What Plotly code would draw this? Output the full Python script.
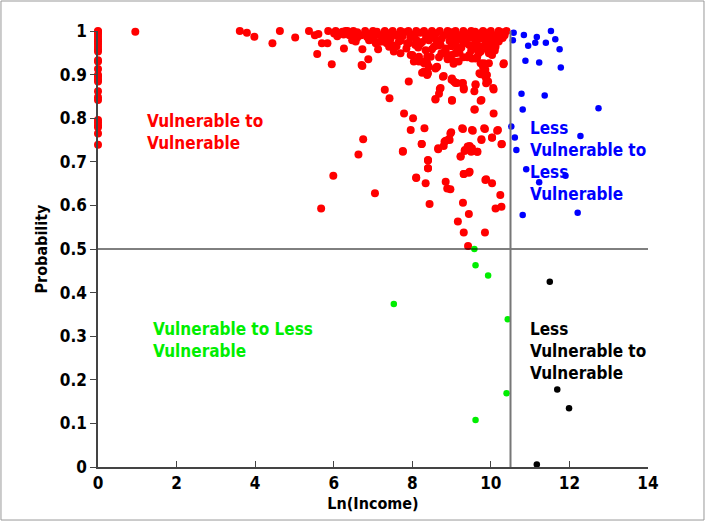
import plotly.graph_objects as go

FONT = "DejaVu Sans Condensed, DejaVu Sans, sans-serif"

# Vulnerable -> Vulnerable (red)
red_x = [
    0, 0, 0, 0, 0, 0, 0, 0, 0, 0, 0, 0, 0, 0, 0, 0, 0, 0, 0, 0, 0, 0, 0, 0, 0, 0,
    0.95, 3.61, 3.79, 3.98, 4.44, 4.63, 5.02, 5.37, 5.52, 5.61, 5.70, 5.84, 5.58, 5.95,
    5.86, 6.01, 6.09, 6.26, 6.22, 6.35, 6.43, 6.47,
    6.73, 6.88, 6.73, 7.13, 7.30, 7.42, 7.91, 7.79, 8.02, 7.96, 8.31, 6.75, 6.63, 5.99,
    7.05, 7.76, 8.24, 8.40, 8.40, 8.10, 8.34, 8.85, 8.89, 8.97, 8.82, 8.93, 8.66, 9.01,
    8.59, 8.70, 8.78, 9.00, 9.10, 9.29, 9.31, 9.58, 9.61, 9.76, 9.88, 9.71, 9.82, 9.58,
    9.27, 9.52, 9.83, 10.18, 10.03, 9.76, 9.34, 9.52, 9.66, 9.41, 9.23, 9.31, 9.44, 9.86,
    10.03, 10.24, 10.27, 10.07, 10.06, 9.74, 9.80, 9.93, 8.62, 8.68, 8.85, 9.10, 9.06,
    9.18, 9.52, 9.74, 9.95, 10.03, 9.99, 10.20, 10.32, 10.20, 7.91, 8.08, 7.66, 7.41,
    7.24, 6.90, 7.07, 8.34, 8.38, 8.17, 8.30, 8.00, 8.04,
    8.97, 10.12, 10.27, 8.44, 9.29, 9.44, 9.16, 9.31, 9.85, 9.42, 5.68,
    8.25, 8.38, 8.80, 9.01, 9.06, 9.14, 9.27, 9.31, 8.72, 8.68, 8.59, 9.01, 9.61, 9.74,
    9.85, 9.88, 10.07, 9.74, 9.59, 8.99, 9.29, 9.54, 9.85, 10.16, 9.76, 10.03, 10.28,
    8.85, 8.95, 8.80, 8.66, 8.24, 7.76, 9.33, 9.46, 9.50, 9.65, 9.23, 8.40, 8.40, 8.10,
    9.31, 9.46, 9.88,
    6.56, 6.71, 7.02, 7.24, 7.49, 7.53, 7.70, 7.87, 7.96, 8.08, 8.17, 8.25, 8.38, 8.42,
    8.47, 8.30, 8.40, 8.59, 7.36, 7.66, 8.42, 8.55,
    8.72, 8.74, 8.89, 8.63, 9.31, 9.61, 9.69, 9.82, 9.86, 9.95, 9.90, 10.03, 10.12,
    10.20, 10.33, 10.24, 9.74, 9.99, 9.27, 9.40,
    6.05, 6.15, 6.30, 6.40, 6.50, 6.60, 6.70, 6.80, 6.90, 7.00, 7.10, 7.20, 7.30, 7.40,
    7.50, 7.60, 7.70, 7.80, 7.90, 8.00, 8.10, 8.20, 8.30, 8.40, 8.50, 8.60, 8.70, 8.80,
    8.90, 9.00, 9.10, 9.20, 9.30, 9.40, 9.50, 9.60, 9.70, 9.80, 9.90, 10.00, 10.10,
    10.20, 10.30, 10.40,
    6.60, 6.90, 7.15, 7.45, 7.70, 7.95, 8.10, 8.25, 8.45, 8.60, 8.75, 8.95, 9.05, 9.20,
    9.35, 9.50, 9.65, 9.80, 9.90, 10.05, 10.15, 10.30,
    7.60, 7.85, 8.15, 8.50, 8.65, 8.85, 9.00, 9.15, 9.25, 9.45, 9.55, 9.70, 9.90, 10.10,
    9.00, 9.20, 9.40, 9.50, 8.80,
    6.25, 6.55, 6.85, 7.05, 7.25, 7.55, 7.75, 8.05, 8.35, 8.55, 8.95, 9.15, 9.35, 9.55,
    9.75, 9.95, 10.25, 10.35, 7.35, 8.20, 8.70, 9.10, 9.60, 9.85, 10.00, 8.90, 9.30,
    9.45, 9.05, 9.65,
]
red_y = [
    1.0, 0.998, 0.993, 0.987, 0.981, 0.976, 0.970, 0.964, 0.958, 0.953, 0.933, 0.930,
    0.913, 0.899, 0.895, 0.889, 0.884, 0.862, 0.848, 0.842, 0.796, 0.790, 0.784, 0.779,
    0.765, 0.739,
    0.998, 1.0, 0.996, 0.987, 0.972, 1.0, 0.985, 1.0, 0.99, 0.993, 0.972, 0.972, 0.947,
    0.924, 1.0, 0.994, 0.988, 0.960, 0.998, 1.0, 0.995, 0.979,
    0.920, 0.935, 0.958, 0.958, 0.865, 0.846, 0.884, 0.811, 0.800, 0.773, 0.777, 0.752,
    0.717, 0.668, 0.628, 0.723, 0.741, 0.703, 0.685, 0.663, 0.651, 0.654, 0.639, 0.765,
    0.746, 0.752, 0.731, 0.842, 0.844, 0.867, 0.895, 0.888, 0.881, 0.881, 0.866, 0.862,
    0.878, 0.842, 0.891, 0.903, 0.903, 0.820, 0.777, 0.773, 0.777, 0.773, 0.756, 0.752,
    0.727, 0.731, 0.723, 0.735, 0.712, 0.672, 0.675, 0.658, 0.651, 0.624, 0.740, 0.811,
    0.869, 0.926, 0.918, 0.884, 0.917, 0.940, 0.953, 0.949, 0.930, 0.930, 0.937, 0.953,
    0.949, 0.962, 0.979, 0.976, 0.924, 0.995, 0.972, 0.970, 0.976, 0.964, 0.979, 0.979,
    0.972, 0.956, 0.941, 0.930, 0.926, 0.945, 0.930,
    0.637, 0.593, 0.597, 0.603, 0.606, 0.580, 0.563, 0.538, 0.538, 0.507, 0.593,
    0.904, 0.899, 0.897, 0.891, 0.884, 0.881, 0.880, 0.869, 0.869, 0.856, 0.843, 0.840,
    0.876, 0.901, 0.897, 0.880, 0.866, 0.840, 0.820, 0.768, 0.775, 0.771, 0.775, 0.771,
    0.750, 0.755, 0.741, 0.748, 0.750, 0.736, 0.729, 0.741, 0.725, 0.725, 0.736, 0.723,
    0.723, 0.712, 0.704, 0.685, 0.664, 0.672, 0.677, 0.660,
    0.976, 0.922, 0.979, 0.976, 0.968, 0.953, 0.949, 0.972, 0.945, 0.968, 0.941, 0.930,
    0.926, 0.918, 0.941, 0.907, 0.903, 0.914, 0.983, 0.987, 0.979, 0.964,
    0.968, 0.949, 0.941, 0.918, 0.972, 0.937, 0.949, 0.926, 0.911, 0.926, 0.899, 0.945,
    0.964, 0.979, 0.926, 0.995, 0.995, 0.983, 0.983, 0.991,
    1.0, 0.995, 1.0, 0.99, 1.0, 0.997, 0.99, 1.0, 0.993, 1.0, 0.998, 0.99, 1.0, 0.995,
    1.0, 0.99, 1.0, 0.997, 1.0, 0.992, 1.0, 0.996, 1.0, 0.99, 1.0, 0.995, 1.0, 0.99,
    1.0, 0.997, 1.0, 0.99, 1.0, 0.994, 1.0, 0.998, 0.99, 1.0, 0.996, 1.0, 0.99, 1.0,
    0.997, 1.0,
    0.985, 0.982, 0.975, 0.983, 0.978, 0.985, 0.98, 0.975, 0.985, 0.98, 0.983, 0.977,
    0.985, 0.98, 0.975, 0.985, 0.978, 0.982, 0.975, 0.985, 0.98, 0.984,
    0.965, 0.96, 0.962, 0.958, 0.967, 0.96, 0.965, 0.958, 0.962, 0.968, 0.96, 0.965,
    0.958, 0.955,
    0.945, 0.95, 0.94, 0.955, 0.95,
    0.992, 0.988, 0.986, 0.99, 0.987, 0.992, 0.988, 0.99, 0.986, 0.99, 0.988, 0.99,
    0.987, 0.991, 0.988, 0.99, 0.99, 0.99, 0.972, 0.97, 0.972, 0.97, 0.972, 0.968,
    0.97, 0.935, 0.94, 0.945, 0.925, 0.94,
]

# Less Vulnerable -> Less Vulnerable (blue)
blue_x = [10.58, 10.56, 10.84, 10.95, 11.17, 11.13, 11.40, 11.53, 11.64, 11.75, 10.88,
          11.23, 11.78, 10.78, 11.37, 10.81, 12.74, 10.52, 12.28, 10.61, 10.65, 10.90,
          11.90, 11.23, 10.81, 12.21]
blue_y = [0.996, 0.979, 0.991, 0.966, 0.986, 0.973, 0.973, 1.0, 0.981, 0.958, 0.932,
          0.928, 0.916, 0.856, 0.852, 0.820, 0.823, 0.781, 0.759, 0.756, 0.727, 0.683,
          0.668, 0.653, 0.578, 0.583]

# Vulnerable -> Less Vulnerable (green)
green_x = [9.58, 9.61, 9.93, 10.43, 10.40, 9.61, 7.53]
green_y = [0.500, 0.463, 0.439, 0.339, 0.169, 0.108, 0.374]

# Less Vulnerable -> Vulnerable (black)
black_x = [11.50, 11.69, 11.99, 11.17]
black_y = [0.425, 0.178, 0.135, 0.006]

x_ticks = [0, 2, 4, 6, 8, 10, 12, 14]
y_ticks = [0, 0.1, 0.2, 0.3, 0.4, 0.5, 0.6, 0.7, 0.8, 0.9, 1]
y_tick_text = ["0", "0.1", "0.2", "0.3", "0.4", "0.5", "0.6", "0.7", "0.8", "0.9", "1"]

income_cut = 10.5
prob_cut = 0.5

fig = go.Figure()
for xs, ys, col, sz in [(red_x, red_y, "#ff0000", 8), (blue_x, blue_y, "#0000ff", 6.5),
                        (green_x, green_y, "#00ee00", 6.5), (black_x, black_y, "#000000", 6.5)]:
    fig.add_trace(go.Scatter(x=xs, y=ys, mode="markers", cliponaxis=False,
                             marker=dict(color=col, size=sz, line=dict(width=0)),
                             showlegend=False, hoverinfo="skip"))

fig.add_shape(type="line", x0=0, x1=14, y0=prob_cut, y1=prob_cut, xref="x", yref="y",
              line=dict(color="black", width=1))
fig.add_shape(type="line", x0=income_cut, x1=income_cut, y0=0, y1=1, xref="x", yref="y",
              line=dict(color="#777777", width=2))
# outer frame
fig.add_shape(type="rect", xref="paper", yref="paper", x0=-0.1764, x1=1.1018,
              y0=-0.1216, y1=1.0688, line=dict(color="#999999", width=1), layer="below")

ann = [
    (1.2, 0.82, "Vulnerable to<br>Vulnerable", "#ff0000"),
    (10.95, 0.805, "Less<br>Vulnerable to<br>Less<br>Vulnerable", "#0000ff"),
    (1.35, 0.345, "Vulnerable to Less<br>Vulnerable", "#00ee00"),
    (10.95, 0.345, "Less<br>Vulnerable to<br>Vulnerable", "#000000"),
]
for ax_, ay_, txt, col in ann:
    fig.add_annotation(x=ax_, y=ay_, xref="x", yref="y", text=txt, showarrow=False,
                       xanchor="left", yanchor="top", align="left",
                       font=dict(family=FONT, size=17, color=col, weight="bold"))

fig.update_layout(
    width=706, height=522,
    margin=dict(l=98, r=58, t=31, b=55),
    paper_bgcolor="white", plot_bgcolor="white",
    font=dict(family=FONT, color="black"),
    xaxis=dict(range=[0, 14], tickvals=x_ticks, ticks="inside", ticklen=6,
               showline=True, linecolor="#444444", linewidth=1.5, showgrid=False,
               zeroline=False, tickcolor="#444444",
               tickfont=dict(family=FONT, size=17, weight="bold", color="black"),
               title=dict(text="Ln(Income)", standoff=6,
                          font=dict(family=FONT, size=16, weight="bold", color="black"))),
    yaxis=dict(range=[0, 1], tickvals=y_ticks, ticktext=y_tick_text, ticks="outside",
               ticklen=6, showline=True, linecolor="#444444", linewidth=1.5,
               showgrid=False, zeroline=False, tickcolor="#444444",
               tickfont=dict(family=FONT, size=17, weight="bold", color="black"),
               title=dict(text="Probability", standoff=8,
                          font=dict(family=FONT, size=16, weight="bold", color="black"))),
)

fig.write_html("out.html")
